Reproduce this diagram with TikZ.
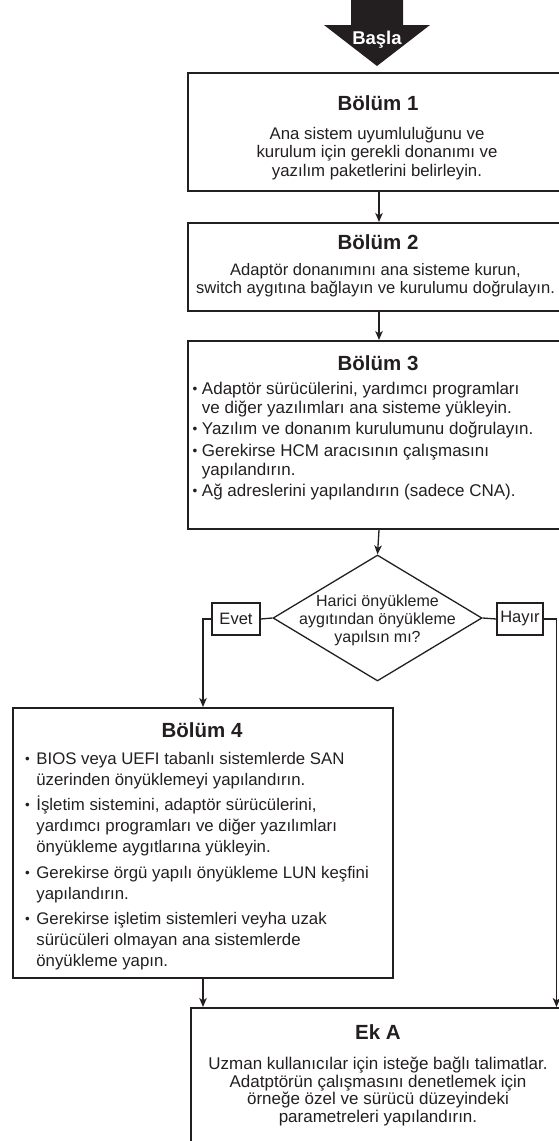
\documentclass[tikz,border=0pt]{standalone}
\usepackage{fontspec}
\setmainfont{Liberation Sans}
\usetikzlibrary{arrows.meta,shapes.geometric,calc}
\definecolor{ink}{HTML}{231F20}
\newcommand{\blt}{\raisebox{1pt}{\scalebox{0.8}{\textbullet}}}
\begin{document}
\begin{tikzpicture}[x=1pt,y=-1pt,
  box/.style={draw=ink,line width=2pt,rectangle,inner sep=0pt,anchor=north west},
  lbl/.style={draw=ink,line width=1.5pt,rectangle,inner sep=0pt,text=ink,font=\fontsize{16.5}{18}\selectfont},
  conn/.style={draw=ink,line width=1.3pt},
  arr/.style={conn,-{Stealth[length=9pt,width=7.5pt,inset=2.5pt]}},
  ttl/.style={inner sep=0pt,anchor=base,text=ink,font=\fontsize{20.5}{22}\selectfont\bfseries},
  txt/.style={inner sep=0pt,text=ink}]
\useasboundingbox (0,0) rectangle (559,1141);
\clip (0,0) rectangle (559,1141);
% start arrow
\fill[ink] (351,-5) -- (403,-5) -- (403,25) -- (430,25) -- (377,66) -- (324,25) -- (351,25) -- cycle;
\node[inner sep=0pt,anchor=base,text=white,font=\fontsize{18.5}{20}\selectfont\bfseries] (start) at (377,44) {Başla};
% boxes
\node[box,minimum width=382pt,minimum height=118pt] (b1) at (187,72) {};
\node[box,minimum width=382pt,minimum height=88pt] (b2) at (187,222) {};
\node[box,minimum width=382pt,minimum height=188pt] (b3) at (187,340) {};
\node[box,minimum width=380pt,minimum height=270pt] (b4) at (12,707) {};
\node[box,minimum width=376pt,minimum height=200pt] (ekA) at (190,1007) {};
\node[draw=ink,line width=1.3pt,diamond,inner sep=0pt,minimum width=209pt,minimum height=126pt] (dia) at (377.5,618) {};
\node[lbl,minimum width=48pt,minimum height=32pt] (evet) at (236,619) {Evet};
\node[lbl,minimum width=46pt,minimum height=32pt] (hayir) at (520,619) {Hayır};
\coordinate (hcol) at (556.5,0);
% texts
\node[ttl] (t1) at (378,110.4) {Bölüm 1};
\node[txt,anchor=north,font=\fontsize{16.8}{18.6}\selectfont] (x1) at (377,126) {\begin{tabular}{@{}c@{}}Ana sistem uyumluluğunu ve\\kurulum için gerekli donanımı ve\\yazılım paketlerini belirleyin.\end{tabular}};
\node[ttl] (t2) at (378,249.5) {Bölüm 2};
\node[txt,anchor=north,font=\fontsize{16.6}{18}\selectfont] (x2) at (375.5,263) {\begin{tabular}{@{}c@{}}Adaptör donanımını ana sisteme kurun,\\switch aygıtına bağlayın ve kurulumu doğrulayın.\end{tabular}};
\node[ttl] (t3) at (378,370.5) {Bölüm 3};
\node[txt,anchor=north west,font=\fontsize{17}{19}\selectfont] (x3) at (192.5,380.7) {\begin{tabular}{@{}l@{\hspace{4.5pt}}l@{}}
\blt & Adaptör sürücülerini, yardımcı programları\\
 & ve diğer yazılımları ana sisteme yükleyin.\\[2.5pt]
\blt & Yazılım ve donanım kurulumunu doğrulayın.\\[2.5pt]
\blt & Gerekirse HCM aracısının çalışmasını\\
 & yapılandırın.\\[2.5pt]
\blt & Ağ adreslerini yapılandırın (sadece CNA).
\end{tabular}};
\node[txt,anchor=north,font=\fontsize{16}{18}\selectfont] (xd) at (377.5,593.4) {\begin{tabular}{@{}c@{}}Harici önyükleme\\aygıtından önyükleme\\yapılsın mı?\end{tabular}};
\node[ttl] (t4) at (202,737.4) {Bölüm 4};
\node[txt,anchor=north west,font=\fontsize{16.8}{21}\selectfont] (x4) at (25,749.3) {\begin{tabular}{@{}l@{\hspace{6.5pt}}l@{}}
\blt & BIOS veya UEFI tabanlı sistemlerde SAN\\
 & üzerinden önyüklemeyi yapılandırın.\\[4.5pt]
\blt & İşletim sistemini, adaptör sürücülerini,\\
 & yardımcı programları ve diğer yazılımları\\
 & önyükleme aygıtlarına yükleyin.\\[4.5pt]
\blt & Gerekirse örgü yapılı önyükleme LUN keşfini\\
 & yapılandırın.\\[4.5pt]
\blt & Gerekirse işletim sistemleri veyha uzak\\
 & sürücüleri olmayan ana sistemlerde\\
 & önyükleme yapın.
\end{tabular}};
\node[ttl] (t5) at (378,1039.4) {Ek A};
\node[txt,anchor=north,font=\fontsize{17}{17.7}\selectfont] (x5) at (378,1056.6) {\begin{tabular}{@{}c@{}}Uzman kullanıcılar için isteğe bağlı talimatlar.\\Adatptörün çalışmasını denetlemek için\\örneğe özel ve sürücü düzeyindeki\\parametreleri yapılandırın.\end{tabular}};
% connectors
\draw[arr] (b1.south) -- (b2.north);
\draw[arr] (b2.south) -- (b3.north);
\draw[arr] (b3.south) -- (dia.north);
\draw[conn] (dia.west) -- (evet.east);
\draw[conn] (dia.east) -- (hayir.west);
\draw[arr] (evet.west) -| (b4.north);
\draw[arr] (hayir.east) -| (ekA.north -| hcol);
\draw[arr] (b4.south) -- (b4.south |- ekA.north);
\end{tikzpicture}
\end{document}
